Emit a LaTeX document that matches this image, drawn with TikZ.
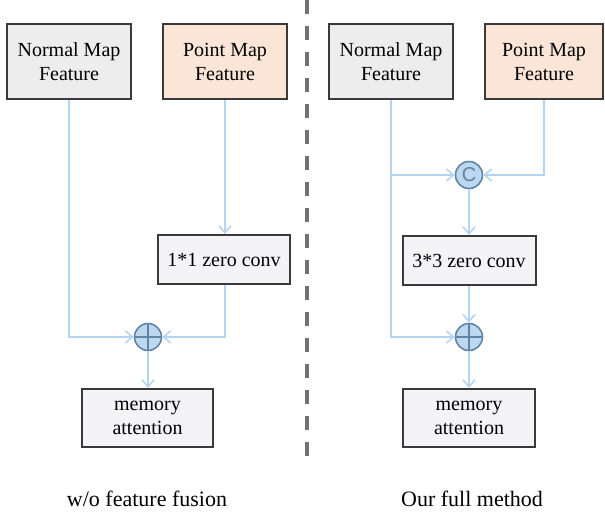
\documentclass[tikz,border=0pt]{standalone}
\usepackage{fontspec}
\setmainfont{Liberation Serif}
\setsansfont{Liberation Sans}
\usetikzlibrary{arrows.meta}
\definecolor{flowblue}{HTML}{B4D4F0}
\definecolor{nodeblue}{HTML}{BDD7EE}
\definecolor{nodeedge}{HTML}{5E84A6}
\definecolor{normalfill}{HTML}{EDEDED}
\definecolor{pointfill}{HTML}{FBE5D7}
\definecolor{convfill}{HTML}{F4F3F6}
\definecolor{boxedge}{HTML}{3A3A3A}
\definecolor{dividergray}{HTML}{767171}
\tikzset{
	featbox/.style={draw=boxedge, line width=1pt, minimum width=62pt, minimum height=37.5pt, align=center, font=\fontsize{10}{12}\selectfont, inner sep=0pt},
	opbox/.style={draw=boxedge, line width=1pt, fill=convfill, align=center, font=\fontsize{10}{12}\selectfont, inner sep=0pt},
	flow/.style={draw=flowblue, line width=0.8pt, -{Straight Barb[length=3.5pt,width=6pt]}},
	plusop/.style={circle, draw=nodeedge, fill=nodeblue, line width=0.8pt, minimum size=13.5pt, inner sep=0pt,
		path picture={\draw[nodeedge, line width=0.8pt] (path picture bounding box.north) -- (path picture bounding box.south)
			(path picture bounding box.west) -- (path picture bounding box.east);}},
	catop/.style={circle, draw=nodeedge, fill=nodeblue, line width=0.8pt, minimum size=13.5pt, inner sep=0pt,
		text=nodeedge, font=\sffamily\fontsize{10}{10}\selectfont},
	caption/.style={font=\fontsize{11}{13}\selectfont}
}

\begin{document}
\begin{tikzpicture}[x=0.5pt, y=-0.5pt]
		%%%%% START %%%%%
		\useasboundingbox (0, 0) rectangle (605, 516);
		
		% divider
		\coordinate (dtop) at (307, 0);
		\coordinate (dbot) at (307, 456);
		\draw[dividergray, line width=1.6pt, dash pattern=on 7pt off 6pt] (dtop) -- (dbot);
		
		% w/o feature fusion
		\node[featbox, fill=normalfill] (lnorm) at (69, 61.5) {Normal Map\\Feature};
		\node[featbox, fill=pointfill] (lpoint) at (225, 61.5) {Point Map\\Feature};
		\node[opbox, minimum width=66pt, minimum height=24.5pt] (lconv) at (224, 259.5) {1*1 zero conv};
		\node[plusop] (lplus) at (148, 337) {};
		\node[opbox, minimum width=65.5pt, minimum height=29pt] (lmem) at (147.5, 418) {memory\\attention};
		
		\draw[flow] (lnorm.south) |- (lplus.west);
		\draw[flow] (lpoint.south) -- (lpoint.south |- lconv.north);
		\draw[flow] (lpoint.south |- lconv.south) |- (lplus.east);
		\draw[flow] (lplus) -- (lplus |- lmem.north);
		
		% our full method
		\node[featbox, fill=normalfill] (rnorm) at (391, 61.5) {Normal Map\\Feature};
		\node[featbox, fill=pointfill, minimum width=59pt] (rpoint) at (544, 61.5) {Point Map\\Feature};
		\node[catop] (rcat) at (469, 175) {C};
		\node[opbox, minimum width=66.5pt, minimum height=24.5pt] (rconv) at (469, 260.5) {3*3 zero conv};
		\node[plusop] (rplus) at (469, 337) {};
		\node[opbox, minimum width=66pt, minimum height=29pt] (rmem) at (469, 418) {memory\\attention};
		
		\draw[flow] (rnorm.south) |- (rplus.west);
		\draw[flow] (rnorm.south |- rcat) -- (rcat.west);
		\draw[flow] (rpoint.south) |- (rcat.east);
		\draw[flow] (rcat) -- (rconv);
		\draw[flow] (rconv) -- (rplus);
		\draw[flow] (rplus) -- (rmem);
		
		% captions
		\node[caption] (lcap) at (147, 499) {w/o feature fusion};
		\node[caption] (rcap) at (472, 499) {Our full method};
		%%%%% END %%%%%
	\end{tikzpicture}
\end{document}
